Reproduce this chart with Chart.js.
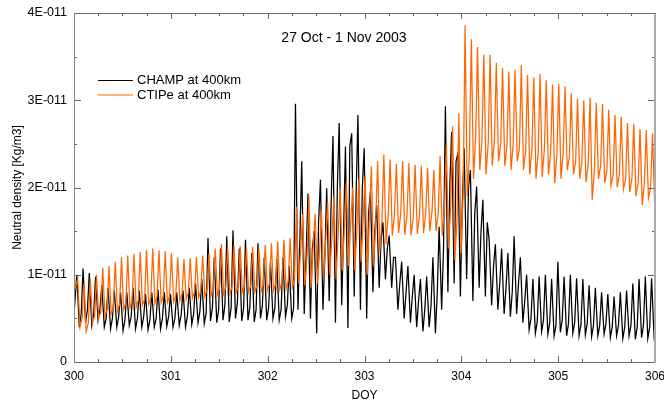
<!DOCTYPE html>
<html><head><meta charset="utf-8">
<script src="https://cdn.jsdelivr.net/npm/chart.js@4/dist/chart.umd.min.js"></script>
<style>html,body{margin:0;padding:0;background:#fff}#wrap{width:664px;height:404px}</style>
</head><body><div id="wrap"><canvas id="c" width="664" height="404"></canvas></div>
<script>
// Neutral density, units of 1E-11 kg/m3, one entry per CHAMP orbit (~15.5 orbits/day, DOY 300-306)
const ORBITS_PER_DAY = 15.5;
const DAY_START = 300, DAY_END = 306;
const yTickValues = [0, 1, 2, 3, 4];
const xTickValues = [300, 301, 302, 303, 304, 305, 306];

const champStart = 0.55;
const champPeak = [1.0,1.07,1.02,0.98, 0.88,0.85,0.82,0.8, 0.8,0.85,0.82,0.78,0.8,0.83,0.8,0.78,
  0.8,0.82,0.85,0.9,0.95, 1.42,1.2,1.3,1.44,1.51,1.3,1.4,1.25,1.36,1.2, 1.15,1.18,1.2,1.1,
  2.96,2.3,1.93,1.5,2.09,1.99,2.59,2.74,2.47,2.62,2.83,2.45, 1.95,1.8,1.6,1.45,
  1.2,1.15,1.1,1.0,0.95,0.98, 1.2,1.55,2.93,2.64,2.39,2.45,2.2,2.01,1.86,1.4,
  1.35,1.3,1.25,1.44,1.2, 1.0,0.95,0.98,1.0,0.95,1.15,0.98,1.0,0.96,
  0.95,0.88,0.85,0.8,0.78,0.75,0.8,0.82,0.9,0.95,0.98,0.96,0.9];
const champLow = [0.4,0.45,0.42,0.48, 0.4,0.38,0.4,0.36,0.42,0.38,0.4,0.37,0.4,0.38,0.41,0.4,
  0.42,0.4,0.43,0.45,0.44,0.47,0.45,0.48,0.46,0.5,0.47,0.48,0.46,0.5,0.48, 0.5,0.48,0.52,0.5,
  0.6,0.55,0.5,0.33,0.6,0.7,0.45,0.65,0.39,0.75,0.6,0.5, 0.8,0.85,0.95,0.85,
  0.6,0.5,0.45,0.4,0.35,0.4, 0.33,0.6, 0.8,0.9,0.75,0.95,0.7,0.85,0.75,0.65,
  0.6,0.55,0.52,0.55,0.45,
  0.37,0.33,0.35,0.32,0.3,0.34,0.3,0.33,0.3,0.31,0.29,0.3,0.32,0.28,0.3,0.27,0.3,0.26,0.28,0.27,0.3,0.28];
const champMid = [0.55,0.6,0.55,0.6, 0.5,0.5,0.52,0.48,0.52,0.5,0.52,0.48,0.5,0.5,0.52,0.5,
  0.54,0.52,0.55,0.58,0.56,0.62,0.6,0.65,0.62,0.68,0.62,0.63,0.6,0.64,0.62, 0.62,0.6,0.65,0.62,
  1.4,1.2,1.3,1.6,1.2,1.8,2.0,1.5,2.47,1.9,2.0,1.7, 1.5,1.4,1.3,1.2,
  0.9,0.8,0.75,0.7,0.6,0.65, 0.8,1.3, 2.0,2.3,1.8,2.0,1.7,1.5,1.6,1.1,
  0.9,0.85,0.8,0.9,0.7,
  0.5,0.46,0.48,0.45,0.42,0.48,0.44,0.46,0.43,0.44,0.42,0.42,0.44,0.4,0.42,0.4,0.42,0.4,0.42,0.4,0.43,0.42];

const ctipeStart = 0.8;
const ctipePeak = [0.95,0.9,0.95,1.0, 1.08,1.1,1.15,1.2, 1.22,1.24,1.26,1.28,1.3,1.28,1.27,1.25,
  1.2,1.18,1.19,1.2,1.22, 1.24,1.3,1.35,1.32,1.34,1.33,1.3,1.32,1.3,1.34, 1.36,1.38,1.4,1.42,
  1.78,1.7,1.9,1.7,1.74,1.84,1.9,2.0,2.07,2.0,2.1,2.14,
  2.24,2.3,2.38,2.32,2.27,2.3,2.28,2.26,2.25,2.22,2.2,2.36,2.5,2.7,2.85,
  3.86,3.7,3.61,3.52,3.52,3.43,3.37,3.33,3.35,3.4,3.29,3.26,3.3,3.23,3.18,3.19,3.16,3.08,3.02,
  3.0,3.03,2.97,2.96,2.89,2.83,2.81,2.74,2.73,2.67,2.66,2.62,2.6];
const ctipeLow = [0.4,0.35,0.45,0.5, 0.52,0.55,0.58,0.6, 0.62,0.63,0.65,0.66,0.67,0.68,0.68,0.69,
  0.7,0.72,0.73,0.74,0.75, 0.76,0.77,0.78,0.78,0.79,0.8,0.8,0.8,0.81,0.82, 0.82,0.83,0.84,0.85,
  0.9,0.88,0.85,0.9,0.95, 1.0,0.95,1.05,1.1,1.05,1.15,1.0, 1.1,1.25,1.35,1.45,
  1.48,1.46,1.45,1.47,1.48,1.5,1.5, 1.45,1.3,1.17,1.25, 1.9,2.1,2.2,2.15,2.25,
  2.3,2.25,2.2,2.3,2.2,2.15, 2.1,2.12,2.15,2.05,2.1,2.2,2.15,2.1,
  2.06,1.86,2.1,2.05,2.02,2.0,1.98, 1.95,1.9,1.8,1.88,1.78,1.95];
const ctipeMid = [0.5,0.45,0.52,0.58, 0.6,0.62,0.66,0.68, 0.7,0.71,0.72,0.74,0.75,0.76,0.76,0.77,
  0.78,0.8,0.81,0.82,0.83, 0.84,0.85,0.86,0.86,0.87,0.88,0.88,0.88,0.89,0.9, 0.9,0.92,0.93,0.94,
  1.3,1.2,1.35,1.25,1.4, 1.45,1.5,1.55,1.6,1.55,1.65,1.7, 1.6,1.65,1.7,1.7,
  1.7,1.68,1.65,1.67,1.7,1.72,1.7, 1.75,1.8,1.6,1.95, 2.4,2.6,2.55,2.5,2.55,
  2.5,2.48,2.5,2.45,2.42,2.45, 2.4,2.45,2.4,2.38,2.4,2.35,2.3,2.3,
  2.25,2.2,2.25,2.2,2.15,2.15,2.1, 2.1,2.05,2.05,2.0,2.0,2.0];

const P = 1 / ORBITS_PER_DAY;
function buildSeries(start, peaks, lows, mids, phase, fLow, fMid) {
  const pts = [{x: DAY_START, y: start}];
  for (let i = 0; i < peaks.length; i++) {
    const t0 = DAY_START + (i + phase) * P;
    pts.push({x: t0, y: peaks[i]});
    pts.push({x: t0 + fLow * P, y: lows[i]});
    pts.push({x: t0 + fMid * P, y: mids[i]});
  }
  return pts;
}
const champData = buildSeries(champStart, champPeak, champLow, champMid, 0.45, 0.4, 0.7);
const ctipeData = buildSeries(ctipeStart, ctipePeak, ctipeLow, ctipeMid, 0.6, 0.35, 0.7);

const FONT = 'Liberation Sans, Arial, sans-serif';
const ORANGE = '#ff6600';

const framePlugin = {
  id: 'frame',
  afterDatasetsDraw(chart) {
    const {ctx, chartArea: a, scales: {x, y}} = chart;
    ctx.save();
    ctx.lineWidth = 1;
    ctx.strokeStyle = '#666';
    for (let t = DAY_START; t <= DAY_END + 1e-9; t += 0.25) {
      const px = Math.round(x.getPixelForValue(t)) + 0.5;
      const len = Math.abs(t - Math.round(t)) < 1e-9 ? 6 : 3;
      ctx.beginPath(); ctx.moveTo(px, a.bottom); ctx.lineTo(px, a.bottom - len); ctx.stroke();
      ctx.beginPath(); ctx.moveTo(px, a.top); ctx.lineTo(px, a.top + len); ctx.stroke();
    }
    for (let v = 0; v <= 4 + 1e-9; v += 0.5) {
      const py = Math.round(y.getPixelForValue(v)) + 0.5;
      const len = Math.abs(v - Math.round(v)) < 1e-9 ? 7 : 3;
      ctx.beginPath(); ctx.moveTo(a.left, py); ctx.lineTo(a.left + len, py); ctx.stroke();
      ctx.beginPath(); ctx.moveTo(a.right, py); ctx.lineTo(a.right - len, py); ctx.stroke();
    }
    const L = Math.round(a.left) + 0.5, R = Math.round(a.right), T = Math.round(a.top) + 0.5, B = Math.round(a.bottom) + 0.5;
    ctx.strokeStyle = '#666';
    ctx.beginPath(); ctx.moveTo(L, T); ctx.lineTo(R, T); ctx.stroke();
    ctx.beginPath(); ctx.moveTo(L, B); ctx.lineTo(R, B); ctx.stroke();
    ctx.strokeStyle = '#888';
    ctx.beginPath(); ctx.moveTo(L, T); ctx.lineTo(L, B); ctx.stroke();
    ctx.strokeStyle = '#aaa'; ctx.lineWidth = 2;
    ctx.beginPath(); ctx.moveTo(R, T); ctx.lineTo(R, B); ctx.stroke();
    ctx.fillStyle = '#000';
    ctx.textBaseline = 'middle';
    ctx.textAlign = 'center';
    ctx.font = '14px ' + FONT;
    ctx.fillText('27 Oct - 1 Nov 2003', 344, 38);
    ctx.textAlign = 'left';
    ctx.font = '13px ' + FONT;
    const items = [['CHAMP at 400km', '#000', 80.5], ['CTIPe at 400km', ORANGE, 95]];
    for (const [txt, col, yy] of items) {
      ctx.strokeStyle = col; ctx.lineWidth = 1.2;
      ctx.beginPath(); ctx.moveTo(98, yy); ctx.lineTo(133, yy); ctx.stroke();
      ctx.fillText(txt, 137, yy);
    }
    ctx.restore();
  }
};

new Chart(document.getElementById('c'), {
  type: 'line',
  data: {
    datasets: [
      {label: 'CHAMP at 400km', data: champData, borderColor: '#000', borderWidth: 1.25, pointRadius: 0, tension: 0, order: 1},
      {label: 'CTIPe at 400km', data: ctipeData, borderColor: ORANGE, borderWidth: 1.25, pointRadius: 0, tension: 0, order: 0}
    ]
  },
  options: {
    responsive: false,
    devicePixelRatio: 1,
    animation: false,
    events: [],
    layout: {padding: {top: 13, right: 9, left: 0, bottom: 0}},
    plugins: {legend: {display: false}, tooltip: {enabled: false}, title: {display: false}},
    scales: {
      x: {
        type: 'linear', min: DAY_START, max: DAY_END,
        afterBuildTicks: s => { s.ticks = xTickValues.map(v => ({value: v})); },
        ticks: {color: '#000', font: {family: FONT, size: 12}, padding: 7, maxRotation: 0},
        grid: {display: false, drawTicks: false}, border: {display: false},
        title: {display: true, text: 'DOY', color: '#000', font: {family: FONT, size: 12}, padding: {top: 0, bottom: 1}},
        afterFit: s => { s.height = 42; s.paddingLeft = 0; s.paddingRight = 0; }
      },
      y: {
        min: 0, max: 4,
        afterBuildTicks: s => { s.ticks = yTickValues.map(v => ({value: v})); },
        ticks: {color: '#000', font: {family: FONT, size: 12.5}, padding: 7,
          callback: v => v === 0 ? '0' : v + 'E-011'},
        grid: {display: false, drawTicks: false}, border: {display: false},
        title: {display: true, text: 'Neutral density [Kg/m3]', color: '#000', font: {family: FONT, size: 12}, padding: {top: 10, bottom: 0}},
        afterFit: s => { s.width = 74; s.paddingTop = 0; s.paddingBottom = 0; }
      }
    }
  },
  plugins: [framePlugin]
});
</script>
</body></html>
